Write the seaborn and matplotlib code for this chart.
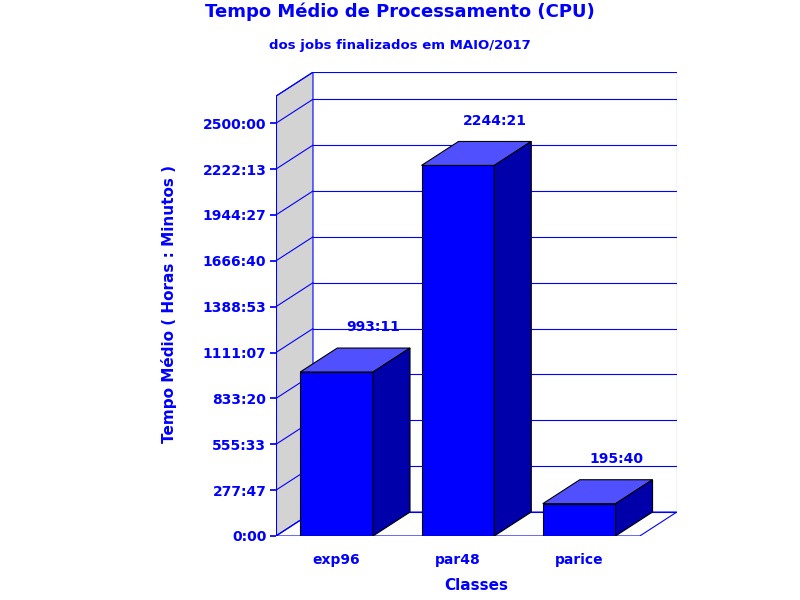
import matplotlib
matplotlib.use("Agg")
import matplotlib.pyplot as plt
import seaborn as sns
import pandas as pd
from matplotlib.patches import Polygon

classes = ["exp96", "par48", "parice"]
hours = [993 + 11/60, 2244 + 21/60, 195 + 40/60]
labels = ["993:11", "2244:21", "195:40"]
tick_vals = [i * 1000000 / 3600 for i in range(10)]

def fmt(h):
    m = int(round(h * 60))
    return f"{m // 60}:{m % 60:02d}"

sns.set_theme(style="white")
plt.rcParams['font.family'] = ['DejaVu Sans']
blue = "#0000FF"
fig = plt.figure(figsize=(8, 6), dpi=100)
ax = fig.add_axes([0.345, 0.1067, 0.501, 0.773])
dx, dy = 0.305, 145.0
top_back = 2809.0
top_front = top_back - dy
x0, x1 = -0.5, 2.5
for s in ax.spines.values():
    s.set_visible(False)

ax.add_patch(Polygon([(x0, 0), (x0 + dx, dy), (x0 + dx, top_back), (x0, top_front)],
                     closed=True, facecolor="#D3D3D3", edgecolor=blue, lw=0.8, zorder=0))
ax.add_patch(Polygon([(x0, 0), (x1, 0), (x1 + dx, dy), (x0 + dx, dy)],
                     closed=True, facecolor="white", edgecolor=blue, lw=0.8, zorder=0))
for t in tick_vals + [top_back - dy]:
    ax.plot([x0 + dx, x1 + dx], [t + dy, t + dy], color=blue, lw=0.8, zorder=0.5)
    ax.plot([x0, x0 + dx], [t, t + dy], color=blue, lw=0.8, zorder=0.5)
ax.plot([x1 + dx, x1 + dx], [dy, top_back], color=blue, lw=0.8, zorder=0.5)
ax.plot([x0, x0], [0, top_front], color=blue, lw=0.8, zorder=0.5)

df = pd.DataFrame({"Classes": classes, "h": hours})
sns.barplot(data=df, x="Classes", y="h", color=blue, saturation=1, width=0.6,
            edgecolor="black", linewidth=0.8, ax=ax, zorder=2)
ax.set_xlim(x0, x1 + dx)
ax.set_ylim(0, top_back)

for p, lab in zip(list(ax.containers[0]), labels):
    bx, bw, bh = p.get_x(), p.get_width(), p.get_height()
    ax.add_patch(Polygon([(bx, bh), (bx + bw, bh), (bx + bw + dx, bh + dy), (bx + dx, bh + dy)],
                         closed=True, facecolor="#5050FF", edgecolor="black", lw=0.8, zorder=3))
    ax.add_patch(Polygon([(bx + bw, 0), (bx + bw + dx, dy), (bx + bw + dx, bh + dy), (bx + bw, bh)],
                         closed=True, facecolor="#0000AA", edgecolor="black", lw=0.8, zorder=3))
    ax.text(bx + bw / 2 + dx, bh + dy + 127, lab, ha="center", va="center",
            color=blue, fontsize=10, fontweight="bold")

ax.set_yticks(tick_vals)
ax.set_yticklabels([fmt(t) for t in tick_vals], color=blue, fontsize=10, fontweight="bold")
ax.tick_params(axis="y", length=4, color=blue, left=True, pad=3)
ax.tick_params(axis="x", length=0, pad=12)
for t in ax.get_xticklabels():
    t.set_color(blue); t.set_fontweight("bold"); t.set_fontsize(10)
ax.set_xlabel("Classes", color=blue, fontsize=11, fontweight="bold", labelpad=8)
ax.set_ylabel("Tempo Médio ( Horas : Minutos )", color=blue, fontsize=11, fontweight="bold", labelpad=18)

fig.text(0.5, 0.98, "Tempo Médio de Processamento (CPU)", ha="center", va="center",
         color=blue, fontsize=13, fontweight="bold")
fig.text(0.5, 0.925, "dos jobs finalizados em MAIO/2017", ha="center", va="center",
         color=blue, fontsize=9.5, fontweight="bold")
fig.savefig("out.png", dpi=100)
